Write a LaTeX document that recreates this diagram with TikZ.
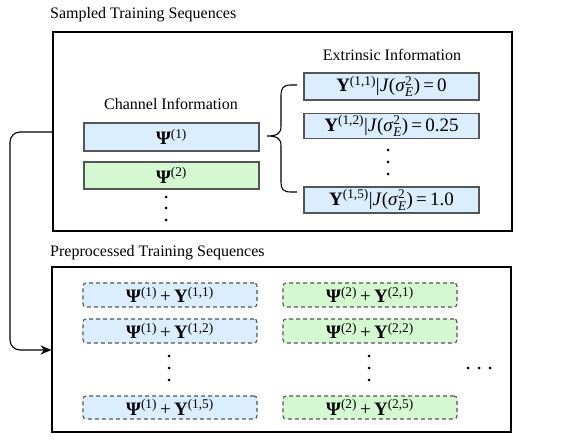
\documentclass[tikz,border=0pt]{standalone}
\usepackage{amsmath}
\usepackage{fontspec}
\setmainfont{Liberation Serif}
\usetikzlibrary{arrows.meta}
\definecolor{bluefill}{HTML}{DAEEFF}
\definecolor{greenfill}{HTML}{D4F9D0}
\definecolor{boxline}{HTML}{555555}
\tikzset{
  frame/.style={draw=black, line width=1.1pt},
  title/.style={anchor=west, inner sep=0pt, font=\fontsize{16}{18}\selectfont},
  heading/.style={inner sep=0pt, font=\fontsize{16}{18}\selectfont},
  solidbox/.style={draw=boxline, line width=1.3pt, inner sep=0pt, font=\fontsize{19}{21}\selectfont},
  dashbox/.style={draw=boxline, line width=1.1pt, dash pattern=on 4pt off 3pt, rounded corners=3pt, inner sep=0pt, font=\fontsize{19}{21}\selectfont},
  dotmark/.style={fill=black},
  conn/.style={draw=black, line width=1.1pt, rounded corners=10pt},
}
\newcommand\Ps[1]{\textbf{Ψ}$^{\text{(#1)}}$}
\newcommand\Ups[1]{\textbf{Υ}$^{\text{(#1)}}$}
\newcommand\sigE{\textit{σ}$^{\text{2}}_{\text{\itshape E}}$}
\newcommand\Jterm{|\textit{J}(\sigE)\,=\,}
\newcommand\Plus{\,+\,}
\begin{document}
\begin{tikzpicture}[x=1pt,y=-1pt]
\useasboundingbox (0,0) rectangle (573,446);
% titles
\node[title] (t1) at (50,15) {Sampled Training Sequences};
\node[title] (t2) at (50,253) {Preprocessed Training Sequences};
% frames
\node[frame, minimum width=459pt, minimum height=199pt, inner sep=0pt] (top) at (282.5,131.5) {};
\node[frame, minimum width=459pt, minimum height=165pt, inner sep=0pt] (bot) at (281.5,349.5) {};
% channel info
\node[heading] (chh) at (171,104) {Channel Information};
\node[solidbox, fill=bluefill, minimum width=175pt, minimum height=28pt] (p1) at (171.5,137) {\Ps{1}};
\node[solidbox, fill=greenfill, minimum width=175pt, minimum height=27pt] (p2) at (171.5,175.5) {\Ps{2}};
\foreach \yy in {197,208,220} \fill[dotmark] (166,\yy) circle (1.5pt);
% extrinsic info
\node[heading] (exh) at (392,55) {Extrinsic Information};
\node[solidbox, fill=bluefill, minimum width=175pt, minimum height=27pt] (y1) at (391.5,86.5) {\Ups{1,1}\Jterm 0};
\node[solidbox, fill=bluefill, minimum width=175pt, minimum height=25pt] (y2) at (391.5,126) {\Ups{1,2}\Jterm 0.25};
\node[solidbox, fill=bluefill, minimum width=175pt, minimum height=26pt] (y5) at (391.5,200) {\Ups{1,5}\Jterm 1.0};
\foreach \yy in {150,162,174} \fill[dotmark] (388,\yy) circle (1.5pt);
% brace
\coordinate (bt) at (297,85);
\coordinate (bb) at (297,192);
\coordinate (btip) at (267,136);
\draw[line width=1.1pt] (bt) -- (291,85) .. controls (283,85) and (281,88) .. (281,96) -- (281,126)
  .. controls (281,133) and (278,136) .. (btip)
  .. controls (278,136) and (281,139) .. (281,146) -- (281,182)
  .. controls (281,189) and (283,192) .. (291,192) -- (bb);
% connector
\coordinate (c1) at (10,132);
\coordinate (c2) at (10,350);
\draw[conn, -{Stealth[length=11pt,width=9pt]}] (top.west |- 0,132) -- (c1) -- (c2) -- (bot.west |- 0,350);
% preprocessed boxes
\node[dashbox, fill=bluefill, minimum width=174pt, minimum height=24pt] (b1) at (170,295) {\Ps{1}\Plus\Ups{1,1}};
\node[dashbox, fill=bluefill, minimum width=174pt, minimum height=24pt] (b2) at (170,331) {\Ps{1}\Plus\Ups{1,2}};
\node[dashbox, fill=bluefill, minimum width=174pt, minimum height=23pt] (b5) at (170,407.5) {\Ps{1}\Plus\Ups{1,5}};
\node[dashbox, fill=greenfill, minimum width=174pt, minimum height=24pt] (g1) at (370,295) {\Ps{2}\Plus\Ups{2,1}};
\node[dashbox, fill=greenfill, minimum width=174pt, minimum height=24pt] (g2) at (370,331) {\Ps{2}\Plus\Ups{2,2}};
\node[dashbox, fill=greenfill, minimum width=174pt, minimum height=23pt] (g5) at (370,407.5) {\Ps{2}\Plus\Ups{2,5}};
\foreach \yy in {356,368,380} {\fill[dotmark] (169,\yy) circle (1.5pt); \fill[dotmark] (369,\yy) circle (1.5pt);}
\foreach \xx in {468,479,490} \fill[dotmark] (\xx,368) circle (1.5pt);
\end{tikzpicture}
\end{document}
